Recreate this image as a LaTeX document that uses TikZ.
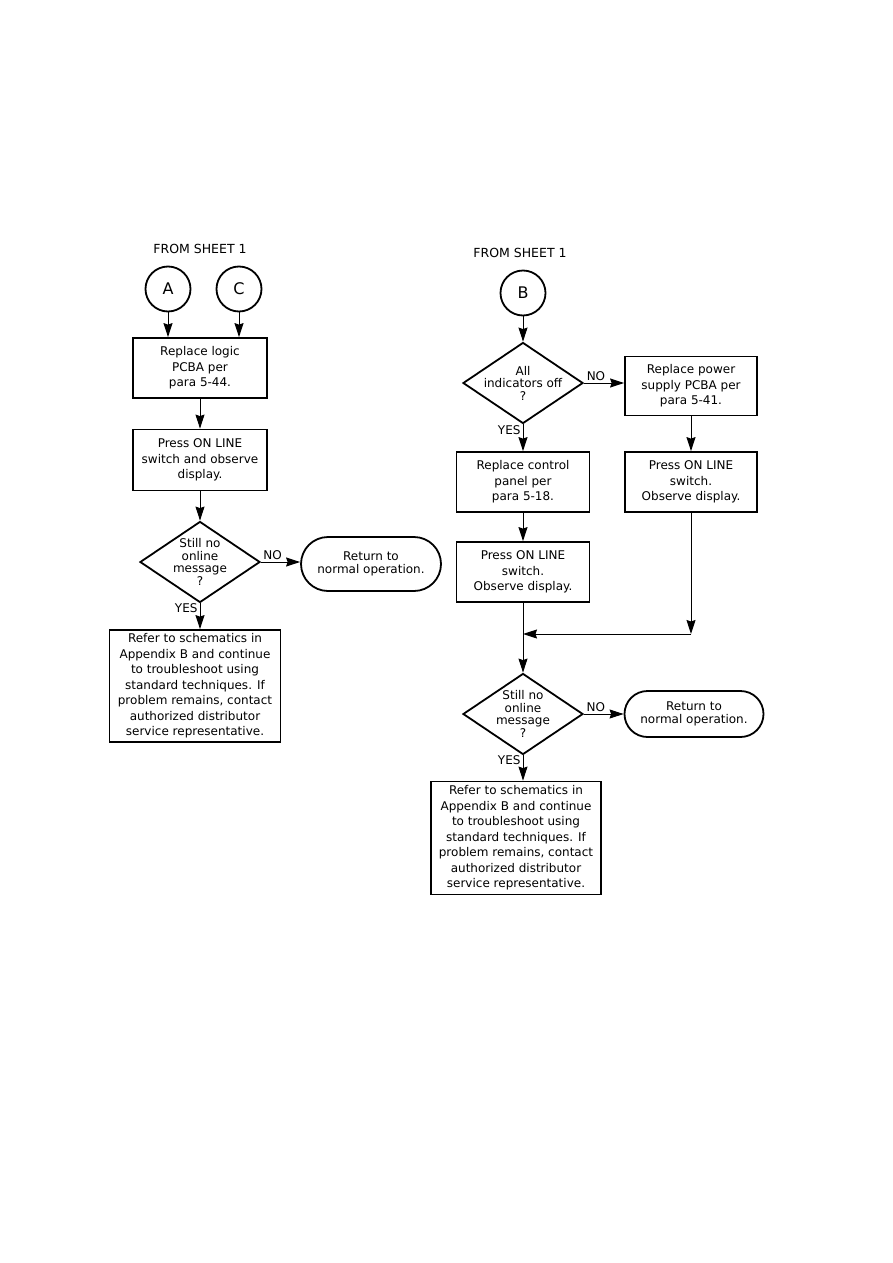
\documentclass[tikz,border=0pt]{standalone}
\usepackage{fontspec}
\setmainfont{DejaVu Sans}
\usepackage{tikz}
\usetikzlibrary{shapes.geometric, shapes.misc, arrows.meta, positioning}
\tikzset{
  block/.style={rectangle, draw=black, line width=1.8pt, align=center,
    inner sep=2pt, font=\fontsize{12}{15.5}\selectfont},
  decision/.style={diamond, draw=black, line width=1.8pt, align=center,
    minimum width=120, minimum height=81, inner xsep=-30pt, inner ysep=-20pt,
    font=\fontsize{12}{12.5}\selectfont},
  terminal/.style={rounded rectangle, draw=black, line width=1.8pt, align=center,
    inner sep=2pt, font=\fontsize{12}{13}\selectfont},
  connector/.style={circle, draw=black, line width=1.8pt, minimum size=45,
    inner sep=0pt, font=\fontsize{16}{16}\selectfont},
  title/.style={font=\fontsize{12.5}{13}\selectfont},
  lbl/.style={font=\fontsize{12}{12}\selectfont, inner sep=2pt},
  arrow/.style={-{Stealth[length=14pt, width=9pt, inset=1.5pt]}, line width=1pt},
  line/.style={line width=1pt}
}

\begin{document}
\begin{tikzpicture}[x=1pt, y=-1pt]
  \useasboundingbox (0,0) rectangle (893,1263);

  % Left branch, entered from A and C
  \node[title] (fromL) at (200,249) {FROM SHEET 1};
  \node[connector] (conA) at (168,289) {A};
  \node[connector] (conC) at (239,289) {C};
  \node[block, minimum width=134, minimum height=60] (logicL) at (200,368) {Replace logic\\PCBA per\\para 5-44.};
  \node[block, minimum width=134, minimum height=61] (pressL) at (200,460) {Press ON LINE\\switch and observe\\display.};
  \node[decision] (checkL) at (200,562) {Still no\\online\\message\\?};
  \node[terminal, minimum width=144, minimum height=54] (returnL) at (371,564) {Return to\\normal operation.};
  \node[block, minimum width=171, minimum height=112] (referL) at (195,686) {Refer to schematics in\\Appendix B and continue\\to troubleshoot using\\standard techniques. If\\problem remains, contact\\authorized distributor\\service representative.};

  \draw[arrow] (conA.south) -- (conA.south |- logicL.north);
  \draw[arrow] (conC.south) -- (conC.south |- logicL.north);
  \draw[arrow] (logicL) -- (pressL);
  \draw[arrow] (pressL) -- (checkL);
  \draw[arrow] (checkL.east) -- node[lbl, above, pos=0.3] {NO} (checkL.east -| returnL.west);
  \draw[arrow] (checkL.south) -- node[lbl, left, pos=0.2] {YES} (checkL.south |- referL.north);

  % Right branch, entered from B
  \node[title] (fromR) at (520,253) {FROM SHEET 1};
  \node[connector] (conB) at (523,293) {B};
  \node[decision] (checkInd) at (523,383) {All\\indicators off\\?};
  \node[block, minimum width=132, minimum height=59] (powerR) at (691,386) {Replace power\\supply PCBA per\\para 5-41.};
  \node[block, minimum width=133, minimum height=60] (panelR) at (523,482) {Replace control\\panel per\\para 5-18.};
  \node[block, minimum width=132, minimum height=60] (pressPwr) at (691,482) {Press ON LINE\\switch.\\Observe display.};
  \node[block, minimum width=133, minimum height=60] (pressPanel) at (523,572) {Press ON LINE\\switch.\\Observe display.};
  \coordinate (mergeR) at (691,634);
  \coordinate (mergeL) at (pressPanel.south |- mergeR);
  \node[decision] (checkR) at (523,714) {Still no\\online\\message\\?};
  \node[terminal, minimum width=143, minimum height=46] (returnR) at (694,714) {Return to\\normal operation.};
  \node[block, minimum width=170, minimum height=113] (referR) at (516,838) {Refer to schematics in\\Appendix B and continue\\to troubleshoot using\\standard techniques. If\\problem remains, contact\\authorized distributor\\service representative.};

  \draw[arrow] (conB) -- (checkInd);
  \draw[arrow] (checkInd.east) -- node[lbl, above, pos=0.3] {NO} (checkInd.east -| powerR.west);
  \draw[arrow] (checkInd.south) -- node[lbl, left, pos=0.2] {YES} (panelR.north);
  \draw[arrow] (panelR) -- (pressPanel);
  \draw[arrow] (powerR) -- (pressPwr);
  \draw[arrow] (pressPwr.south) -- (mergeR);
  \draw[arrow] (mergeR) -- (mergeL);
  \draw[arrow] (pressPanel.south) -- (checkR.north);
  \draw[arrow] (checkR.east) -- node[lbl, above, pos=0.3] {NO} (returnR.west);
  \draw[arrow] (checkR.south) -- node[lbl, left, pos=0.2] {YES} (checkR.south |- referR.north);
\end{tikzpicture}
\end{document}
